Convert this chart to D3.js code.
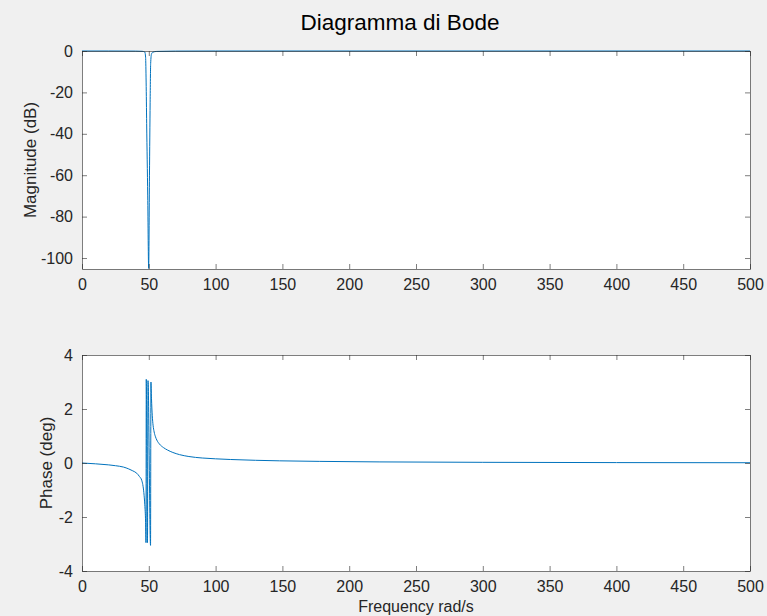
<!DOCTYPE html>
<html>
<head>
<meta charset="utf-8">
<script src="https://cdn.jsdelivr.net/npm/d3@7"></script>
<style>
  body { margin: 0; background: #f0f0f0; }
  text { font-family: "Liberation Sans", Arial, Helvetica, sans-serif; fill: #262626; }
</style>
</head>
<body>
<div id="chart"></div>
<script>
// dati
var magFreq = [0, 20, 40, 45, 47, 47.6, 48.0, 48.4, 49.2, 49.9, 50.5, 51.0, 51.4, 52.0, 53, 56, 70, 100, 200, 500];
var magDb   = [0, 0, -0.05, -0.15, -0.5, -3, -15, -35, -70, -105, -60, -25, -6, -1.5, -0.6, -0.2, -0.05, 0, 0, 0];

var phaseFreq = [0, 10, 20, 25, 31, 35, 38, 41, 43, 44.7, 45.5, 46.3, 47, 47.6, 47.9, 48.1, 49.0, 49.4, 51.3, 51.6, 52.0, 52.6, 53.2, 54, 55, 56, 58, 61, 64, 68, 73, 80, 90, 100, 111, 130, 148, 178, 223, 300, 400, 500];
var phaseVal  = [0, -0.03, -0.07, -0.1, -0.15, -0.22, -0.29, -0.38, -0.5, -0.64, -0.8, -1.1, -1.55, -2.2, -2.95, 3.1, -2.95, 3.05, -3.05, 3.0, 2.4, 1.75, 1.4, 1.15, 0.97, 0.85, 0.7, 0.57, 0.48, 0.39, 0.31, 0.24, 0.185, 0.155, 0.13, 0.1, 0.08, 0.06, 0.04, 0.025, 0.015, 0.01];

var xTicks = [0, 50, 100, 150, 200, 250, 300, 350, 400, 450, 500];
var magTicks = [-100, -80, -60, -40, -20, 0];
var phaseTicks = [-4, -2, 0, 2, 4];

var width = 767, height = 616;
var left = 82, right = 750;
var lineColor = "#0072bd";

var svg = d3.select("#chart").append("svg")
  .attr("width", width)
  .attr("height", height);

svg.append("rect").attr("width", width).attr("height", height).attr("fill", "#f0f0f0");

// titolo
svg.append("text")
  .attr("x", 400)
  .attr("y", 30)
  .attr("text-anchor", "middle")
  .attr("font-size", "22.5px")
  .style("fill", "#000")
  .text("Diagramma di Bode");

var x = d3.scaleLinear().domain([0, 500]).range([left, right]);
var fmt = function(d) { return String(d); };

function Panel(top, bottom, yDomain, yTicks, freq, vals, ylabel, ylabelX) {
  var y = d3.scaleLinear().domain(yDomain).range([bottom, top]);
  var g = svg.append("g");

  g.append("rect")
    .attr("x", left).attr("y", top)
    .attr("width", right - left).attr("height", bottom - top)
    .attr("fill", "white");

  // curva
  var line = d3.line()
    .x(function(d) { return x(d[0]); })
    .y(function(d) { return y(d[1]); })
    .curve(d3.curveMonotoneX);
  var pts = freq.map(function(f, i) { return [f, vals[i]]; });
  g.append("path")
    .datum(pts)
    .attr("d", line)
    .attr("fill", "none")
    .attr("stroke", lineColor)
    .attr("stroke-width", 1);

  // assi (tacche verso l'interno)
  var axB = g.append("g").attr("transform", "translate(0," + bottom + ")")
    .call(d3.axisBottom(x).tickValues(xTicks).tickFormat(fmt).tickSizeInner(-5).tickSizeOuter(0).tickPadding(10));
  var axT = g.append("g").attr("transform", "translate(0," + top + ")")
    .call(d3.axisTop(x).tickValues(xTicks).tickSizeInner(-5).tickSizeOuter(0).tickFormat(""));
  var axL = g.append("g").attr("transform", "translate(" + left + ",0)")
    .call(d3.axisLeft(y).tickValues(yTicks).tickFormat(fmt).tickSizeInner(-5).tickSizeOuter(0).tickPadding(9));
  var axR = g.append("g").attr("transform", "translate(" + right + ",0)")
    .call(d3.axisRight(y).tickValues(yTicks).tickSizeInner(-5).tickSizeOuter(0).tickFormat(""));

  [axB, axT, axL, axR].forEach(function(a) {
    a.selectAll("path, line").attr("stroke", "#262626").attr("stroke-width", 0.6);
    a.selectAll("text")
      .attr("font-size", "16px")
      .attr("font-family", "Liberation Sans, Arial, sans-serif")
      .attr("fill", "#262626");
  });

  g.append("text")
    .attr("transform", "translate(" + ylabelX + "," + ((top + bottom) / 2) + ") rotate(-90)")
    .attr("text-anchor", "middle")
    .attr("dy", "0.35em")
    .attr("font-size", "17px")
    .text(ylabel);
  return y;
}

Panel(51, 269, [-105.3, 0], magTicks, magFreq, magDb, "Magnitude (dB)", 30);
Panel(355, 571, [-4, 4], phaseTicks, phaseFreq, phaseVal, "Phase (deg)", 46);

svg.append("text")
  .attr("x", 416)
  .attr("y", 612)
  .attr("text-anchor", "middle")
  .attr("font-size", "16px")
  .text("Frequency rad/s");
</script>
</body>
</html>
